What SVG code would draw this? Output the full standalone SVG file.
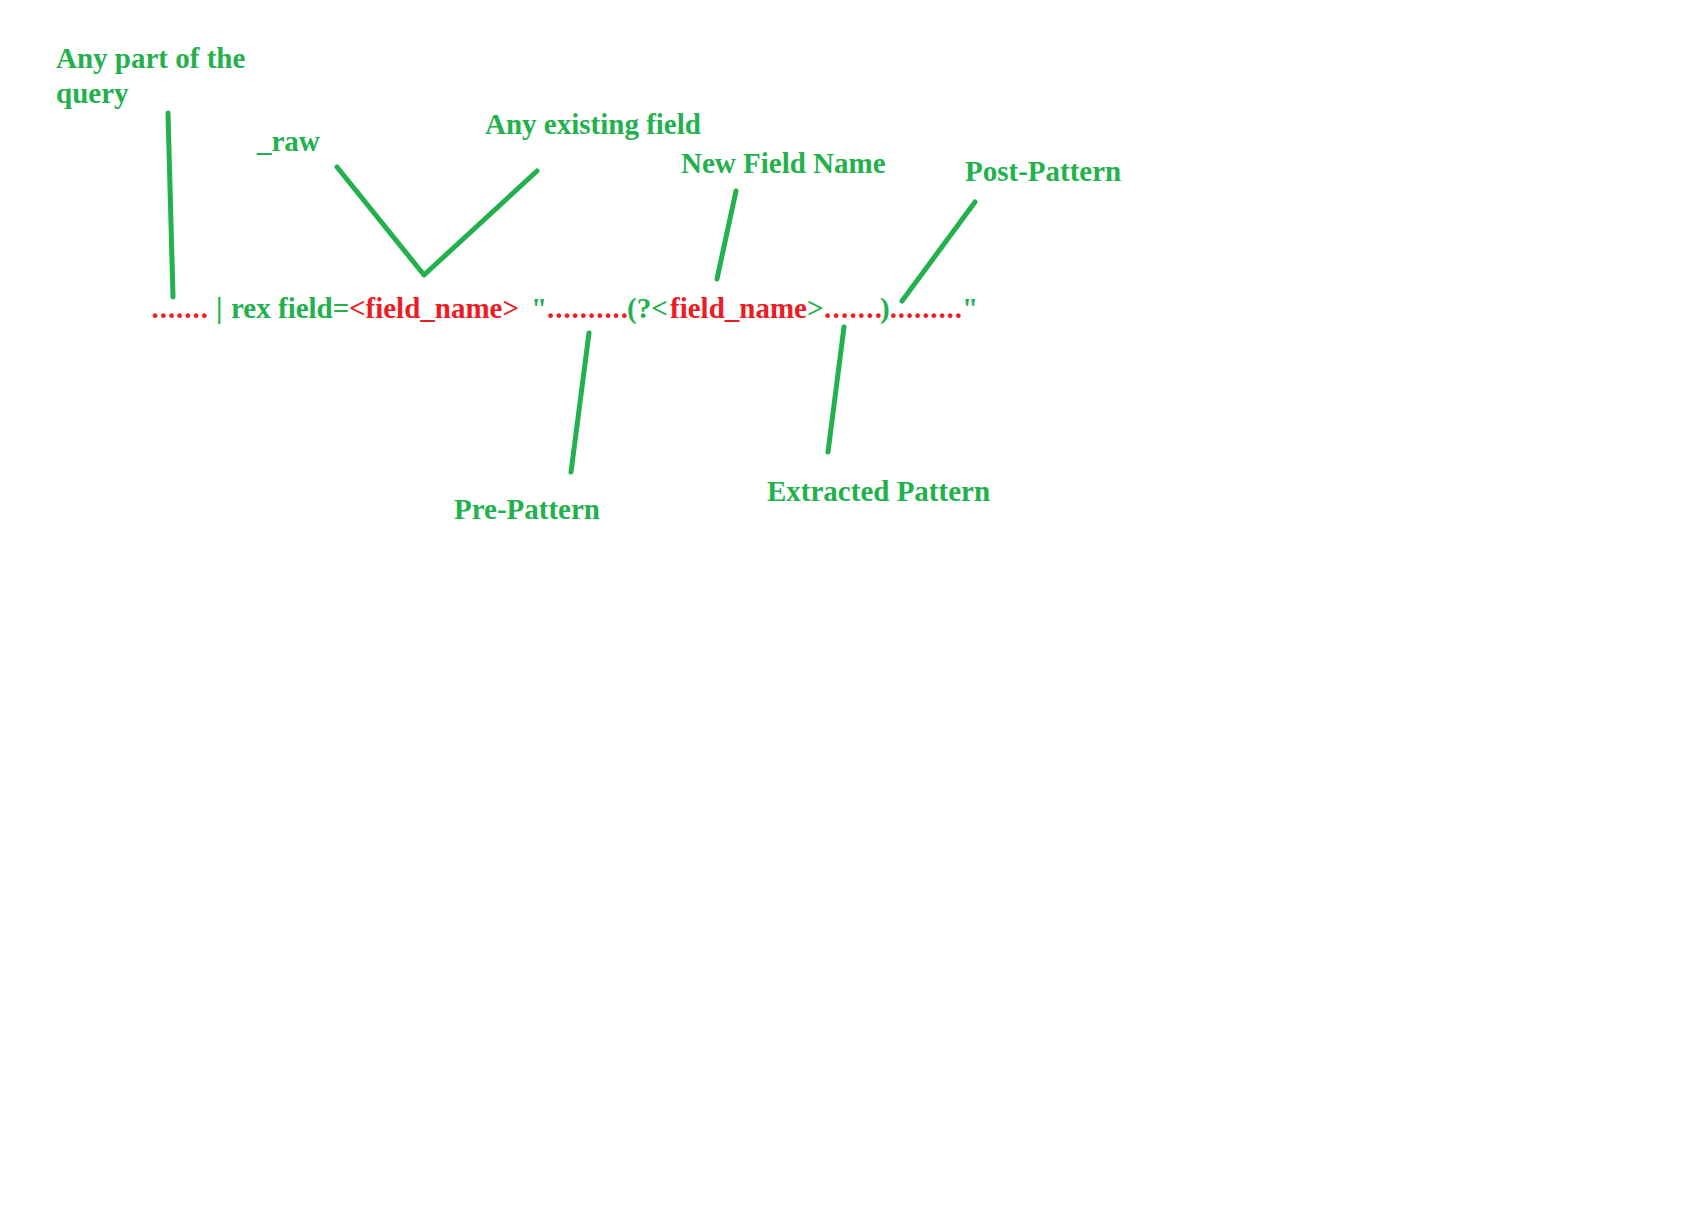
<svg xmlns="http://www.w3.org/2000/svg" width="1686" height="1211" viewBox="0 0 1686 1211">
<style>
text { font-family: "Liberation Serif", "Times New Roman", serif; font-weight: bold; font-size: 29px; }
.g { fill: #22B14C; }
.r { fill: #ED1C24; }
.conn { stroke: #22B14C; stroke-width: 5; stroke-linecap: round; stroke-linejoin: round; fill: none; }
</style>
<rect x="0" y="0" width="1686" height="1211" fill="#FFFFFF"/>
<g id="label-any-part">
<text class="g" x="56" y="68">Any part of the</text>
<text class="g" x="56" y="103">query</text>
</g>
<g id="label-raw">
<text class="g" x="257" y="151">_raw</text>
</g>
<g id="label-any-existing">
<text class="g" x="485" y="134">Any existing field</text>
</g>
<g id="label-new-field-name">
<text class="g" x="681" y="173">New Field Name</text>
</g>
<g id="label-post-pattern">
<text class="g" x="965" y="181">Post-Pattern</text>
</g>
<g id="label-pre-pattern">
<text class="g" x="454" y="519">Pre-Pattern</text>
</g>
<g id="label-extracted-pattern">
<text class="g" x="767" y="501">Extracted Pattern</text>
</g>
<g id="rex-command">
<text y="318"><tspan class="r" x="151.5 159.7 167.9 176.1 184.3 192.5 200.7">.......</tspan><tspan class="g" x="216">|</tspan><tspan class="g" x="231">rex field=</tspan><tspan class="r" x="349">&lt;field_name&gt;</tspan><tspan class="g" x="531">"</tspan><tspan class="r" x="547.1 555.3 563.5 571.6 579.8 588 596.2 604.4 612.5 620.7">..........</tspan><tspan class="g" x="627">(?&lt;</tspan><tspan class="r" x="670">field_name</tspan><tspan class="g" x="807">&gt;</tspan><tspan class="r" x="824.1 832.5 841 849.4 857.8 866.3 874.7">.......</tspan><tspan class="g" x="880">)</tspan><tspan class="r" x="889.7 897.8 906 914.1 922.2 930.3 938.5 946.6 954.7">.........</tspan><tspan class="g" x="962">"</tspan></text>
</g>
<g id="connectors">
<line class="conn" x1="168" y1="113" x2="173" y2="297"/>
<polyline class="conn" points="337,167 424,275 537,171"/>
<line class="conn" x1="736" y1="191" x2="717" y2="279"/>
<line class="conn" x1="975" y1="202" x2="902" y2="301"/>
<line class="conn" x1="589" y1="333" x2="571" y2="472"/>
<line class="conn" x1="844" y1="327" x2="828" y2="452"/>
</g>
</svg>
